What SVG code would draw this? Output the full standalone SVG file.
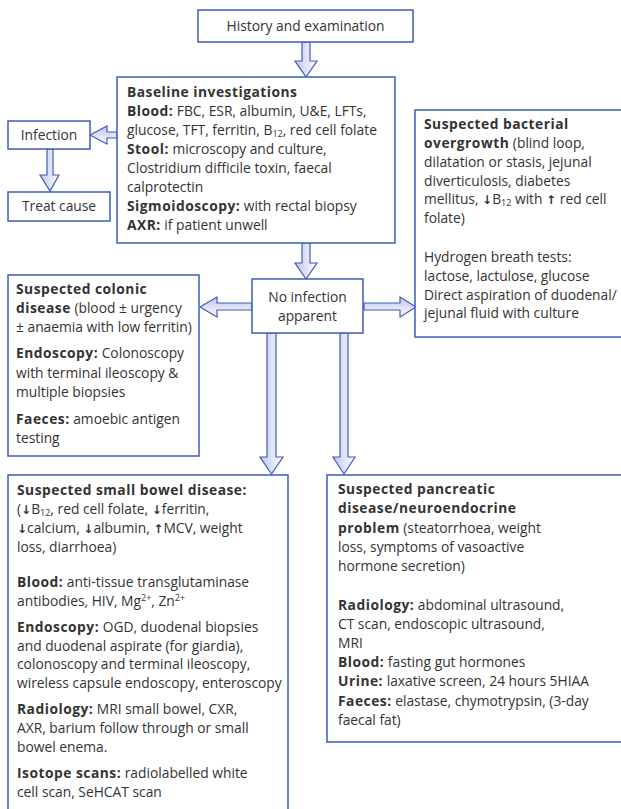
<svg xmlns="http://www.w3.org/2000/svg" width="621" height="809" viewBox="0 0 621 809">
<style>
text{font-family:"Open Sans","Lato",sans-serif;font-size:13.8px;fill:#333}
.b{font-weight:bold;letter-spacing:0.5px}
.ar{font-family:"DejaVu Sans",sans-serif;font-size:12px;font-weight:bold}
.box{fill:#fff;stroke:#3d5cb8;stroke-width:1.5}
.arr{fill:url(#g);stroke:#3d5cb8;stroke-width:1.2;stroke-linejoin:miter}
.arrh{fill:url(#gh);stroke:#3d5cb8;stroke-width:1.2;stroke-linejoin:miter}
.sub{font-size:9px;baseline-shift:-1.5px}
.sup{font-size:9px;baseline-shift:5px}
.c{text-anchor:middle}
</style>
<defs>
<linearGradient id="g" x1="0" y1="0" x2="1" y2="0"><stop offset="0" stop-color="#c0c4ee"/><stop offset="1" stop-color="#ffffff"/></linearGradient>
<linearGradient id="gh" x1="0" y1="0" x2="0" y2="1"><stop offset="0" stop-color="#c0c4ee"/><stop offset="1" stop-color="#ffffff"/></linearGradient>
</defs>
<g id="connectors">
<polygon class="arr" points="302,42 310,42 310,61 317,61 306,77 295,61 302,61"/>
<polygon class="arrh" points="117,132 107,132 107,126 90,135 107,144 107,138 117,138"/>
<polygon class="arr" points="47,149 53,149 53,175 59,175 50,191 40,175 47,175"/>
<polygon class="arr" points="302,243 310,243 310,263 317,263 306,279 295,263 302,263"/>
<polygon class="arrh" points="252,303 217,303 217,297 200,307 217,317 217,310 252,310"/>
<polygon class="arrh" points="364,303 400,303 400,297 416,307 400,317 400,310 364,310"/>
<polygon class="arr" points="267,333 276,333 276,457 283,457 271.5,474 260,457 267,457"/>
<polygon class="arr" points="340,333 348,333 348,457 355,457 344,474 333,457 340,457"/>
</g>
<g id="history">
<rect class="box" x="198" y="10" width="215" height="32"/>
<text class="c" x="305.5" y="31">History and examination</text>
</g>
<g id="baseline">
<rect class="box" x="117" y="77" width="278" height="166"/>
<text x="127" y="97" class="b">Baseline investigations</text>
<text x="127" y="116"><tspan class="b">Blood:</tspan> FBC, ESR, albumin, U&amp;E, LFTs,</text>
<text x="127" y="135">glucose, TFT, ferritin, B<tspan class="sub">12</tspan>, red cell folate</text>
<text x="127" y="154"><tspan class="b">Stool:</tspan> microscopy and culture,</text>
<text x="127" y="173">Clostridium difficile toxin, faecal</text>
<text x="127" y="192">calprotectin</text>
<text x="127" y="211"><tspan class="b">Sigmoidoscopy:</tspan> with rectal biopsy</text>
<text x="127" y="230"><tspan class="b">AXR:</tspan> if patient unwell</text>
</g>
<g id="infection">
<rect class="box" x="8" y="121" width="82" height="28"/>
<text class="c" x="49" y="140">Infection</text>
</g>
<g id="treat">
<rect class="box" x="8" y="192" width="102" height="29"/>
<text class="c" x="59" y="211">Treat cause</text>
</g>
<g id="bacterial">
<rect class="box" x="415" y="110" width="215" height="227"/>
<text x="424" y="129" class="b">Suspected bacterial</text>
<text x="424" y="148"><tspan class="b">overgrowth</tspan> (blind loop,</text>
<text x="424" y="167">dilatation or stasis, jejunal</text>
<text x="424" y="186">diverticulosis, diabetes</text>
<text x="424" y="204">mellitus, <tspan class="ar">↓</tspan>B<tspan class="sub">12</tspan> with <tspan class="ar">↑</tspan> red cell</text>
<text x="424" y="223">folate)</text>
<text x="424" y="262">Hydrogen breath tests:</text>
<text x="424" y="281">lactose, lactulose, glucose</text>
<text x="424" y="300">Direct aspiration of duodenal/</text>
<text x="424" y="318">jejunal fluid with culture</text>
</g>
<g id="noinfection">
<rect class="box" x="252" y="279" width="111" height="54"/>
<text class="c" x="307.5" y="302">No infection</text>
<text class="c" x="307.5" y="321">apparent</text>
</g>
<g id="colonic">
<rect class="box" x="8" y="275" width="191" height="181"/>
<text x="16" y="294" class="b">Suspected colonic</text>
<text x="16" y="313"><tspan class="b">disease</tspan> (blood ± urgency</text>
<text x="16" y="332">± anaemia with low ferritin)</text>
<text x="16" y="358"><tspan class="b">Endoscopy:</tspan> Colonoscopy</text>
<text x="16" y="378">with terminal ileoscopy &amp;</text>
<text x="16" y="397">multiple biopsies</text>
<text x="16" y="424"><tspan class="b">Faeces:</tspan> amoebic antigen</text>
<text x="16" y="443">testing</text>
</g>
<g id="smallbowel">
<rect class="box" x="8" y="475" width="280" height="345"/>
<text x="17" y="495" class="b">Suspected small bowel disease:</text>
<text x="17" y="514">(<tspan class="ar">↓</tspan>B<tspan class="sub">12</tspan>, red cell folate, <tspan class="ar">↓</tspan>ferritin,</text>
<text x="17" y="533"><tspan class="ar">↓</tspan>calcium, <tspan class="ar">↓</tspan>albumin, <tspan class="ar">↑</tspan>MCV, weight</text>
<text x="17" y="552">loss, diarrhoea)</text>
<text x="17" y="587"><tspan class="b">Blood:</tspan> anti-tissue transglutaminase</text>
<text x="17" y="606">antibodies, HIV, Mg<tspan class="sup">2+</tspan>, Zn<tspan class="sup">2+</tspan></text>
<text x="17" y="632"><tspan class="b">Endoscopy:</tspan> OGD, duodenal biopsies</text>
<text x="17" y="651">and duodenal aspirate (for giardia),</text>
<text x="17" y="669">colonoscopy and terminal ileoscopy,</text>
<text x="17" y="688">wireless capsule endoscopy, enteroscopy</text>
<text x="17" y="714"><tspan class="b">Radiology:</tspan> MRI small bowel, CXR,</text>
<text x="17" y="733">AXR, barium follow through or small</text>
<text x="17" y="752">bowel enema.</text>
<text x="17" y="778"><tspan class="b">Isotope scans:</tspan> radiolabelled white</text>
<text x="17" y="797">cell scan, SeHCAT scan</text>
</g>
<g id="pancreatic">
<rect class="box" x="327" y="475" width="305" height="267"/>
<text x="338" y="494" class="b">Suspected pancreatic</text>
<text x="338" y="513" class="b">disease/neuroendocrine</text>
<text x="338" y="533"><tspan class="b">problem</tspan> (steatorrhoea, weight</text>
<text x="338" y="552">loss, symptoms of vasoactive</text>
<text x="338" y="571">hormone secretion)</text>
<text x="338" y="610"><tspan class="b">Radiology:</tspan> abdominal ultrasound,</text>
<text x="338" y="629">CT scan, endoscopic ultrasound,</text>
<text x="338" y="648">MRI</text>
<text x="338" y="667"><tspan class="b">Blood:</tspan> fasting gut hormones</text>
<text x="338" y="686"><tspan class="b">Urine:</tspan> laxative screen, 24 hours 5HIAA</text>
<text x="338" y="706"><tspan class="b">Faeces:</tspan> elastase, chymotrypsin, (3-day</text>
<text x="338" y="725">faecal fat)</text>
</g>
</svg>
